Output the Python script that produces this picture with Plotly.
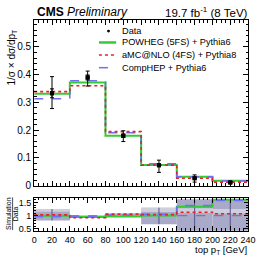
import plotly.graph_objects as go

# ---------------- data ----------------
edges = [0, 40, 80, 120, 160, 200, 240]
centers = [20, 60, 100, 140, 180, 220]
data_val = [0.333, 0.390, 0.180, 0.074, 0.027, 0.0117]
data_tot_hi = [0.060, 0.023, 0.018, 0.018, 0.012, 0.004]
data_tot_lo = [0.055, 0.031, 0.021, 0.026, 0.014, 0.004]
data_stat = [0.016, 0.009, 0.006, 0.004, 0.002, 0.001]

powheg = [0.331, 0.372, 0.180, 0.075, 0.032, 0.0180]
amcnlo = [0.339, 0.360, 0.195, 0.074, 0.027, 0.0128]
comphep = [0.313, 0.378, 0.191, 0.079, 0.032, 0.0176]

ratio_powheg = [1.00, 0.95, 0.97, 1.01, 1.34, 1.60]
ratio_amcnlo = [1.03, 0.92, 1.06, 1.04, 1.13, 1.07]
ratio_comphep = [0.96, 0.97, 1.03, 1.05, 1.38, 1.57]

band_dark_lo = [0.82, 0.91, 0.95, 0.68, 0.40, 0.40]
band_dark_hi = [1.25, 1.02, 1.09, 1.30, 1.62, 1.62]
band_light_lo = [1.15, 0.99, 1.06, 1.14, 1.10, 1.08]
band_light_hi = [1.25, 1.02, 1.09, 1.30, 1.28, 1.25]

x_ticks = list(range(0, 241, 20))

GREEN = "#33cc33"
RED = "#e8202a"
BLUE = "#6f6ff5"
FONT = "Liberation Sans"

W, H = 270, 263
def px(x):
    return x / W
def py(y):
    return 1 - y / H

fig = go.Figure()

def step(vals):
    return vals + [vals[-1]]

# ---------- ratio bands ----------
for lo, hi, col in [(band_dark_lo, band_dark_hi, "#a9a9c9"),
                    (band_light_lo, band_light_hi, "#cfcfdc")]:
    for i in range(len(centers)):
        fig.add_trace(go.Scatter(
            x=[edges[i], edges[i + 1], edges[i + 1], edges[i], edges[i]],
            y=[lo[i], lo[i], hi[i], hi[i], lo[i]],
            fill="toself", fillcolor=col, mode="lines", line=dict(width=0),
            xaxis="x2", yaxis="y2", hoverinfo="skip", showlegend=False))

# vertical lines in ratio band at bin centres
vx, vy = [], []
for i, c in enumerate(centers):
    if i == 1 or i == 2:
        continue
    vx += [c, c, None]
    vy += [band_dark_lo[i], band_dark_hi[i], None]
fig.add_trace(go.Scatter(x=vx, y=vy, mode="lines",
                         line=dict(color="#55558e", width=1),
                         xaxis="x2", yaxis="y2", showlegend=False))

# dashed line at 1
fig.add_trace(go.Scatter(x=[0, 240], y=[1, 1], mode="lines",
                         line=dict(color="#666666", width=0.8, dash="dash"),
                         xaxis="x2", yaxis="y2", showlegend=False))

for vals, col, dash, w, ax in [
        (powheg, GREEN, "solid", 2, ""), (comphep, BLUE, "dash", 1.5, ""),
        (amcnlo, RED, "dot", 1.6, ""),
        (ratio_powheg, GREEN, "solid", 2, "2"), (ratio_comphep, BLUE, "dash", 1.5, "2"),
        (ratio_amcnlo, RED, "dot", 1.6, "2")]:
    fig.add_trace(go.Scatter(x=edges, y=step(vals), mode="lines",
                             line=dict(color=col, width=w, dash=dash, shape="hv"),
                             xaxis="x" + ax, yaxis="y" + ax, showlegend=False))

# data: total error
fig.add_trace(go.Scatter(
    x=centers, y=data_val, mode="markers",
    marker=dict(color="black", size=4, symbol="square"),
    error_y=dict(type="data", symmetric=False, array=data_tot_hi,
                 arrayminus=data_tot_lo, color="black", thickness=1, width=2),
    xaxis="x", yaxis="y", showlegend=False))
# data: stat error
fig.add_trace(go.Scatter(
    x=centers, y=data_val, mode="markers",
    marker=dict(color="black", size=4, symbol="square"),
    error_y=dict(type="data", array=data_stat, color="black", thickness=1, width=2),
    xaxis="x", yaxis="y", showlegend=False))

axis_common = dict(ticks="inside", mirror="allticks", showline=True,
                   linecolor="black", linewidth=1, showgrid=False, zeroline=False,
                   tickcolor="black", tickfont=dict(family=FONT, size=10, color="black"))

x_dom = [px(32.5), px(255.5)]
fig.update_layout(
    width=W, height=H, margin=dict(l=0, r=0, t=0, b=0),
    paper_bgcolor="white", plot_bgcolor="white",
    xaxis=dict(domain=x_dom, range=[0, 240], anchor="y", showticklabels=False,
               tickvals=x_ticks, ticklen=5,
               minor=dict(dtick=5, ticklen=2.5, ticks="inside", tickcolor="black"),
               **axis_common),
    yaxis=dict(domain=[py(189.3), py(20.7)], range=[0, 0.596], anchor="x",
               dtick=0.1, ticklen=5, tickformat="~g",
               minor=dict(dtick=0.02, ticklen=2.5, ticks="inside", tickcolor="black"),
               **axis_common),
    xaxis2=dict(domain=x_dom, range=[0, 240], anchor="y2", tickvals=x_ticks,
                ticktext=[str(t) for t in x_ticks], ticklen=5,
                minor=dict(dtick=5, ticklen=2.5, ticks="inside", tickcolor="black"),
                **{**axis_common, "tickfont": dict(family=FONT, size=9, color="black")}),
    yaxis2=dict(domain=[py(235.3), py(201.7)], range=[0.43, 1.67], anchor="x2",
                tickvals=[0.5, 1, 1.5], ticktext=["0.5", "1", "1.5"], ticklen=4,
                minor=dict(dtick=0.1, ticklen=2, ticks="inside", tickcolor="black"),
                **{**axis_common, "tickfont": dict(family=FONT, size=9, color="black")}),
)

ann = []
ann.append(dict(x=px(33), y=py(12.5), xref="paper", yref="paper", xanchor="left",
                yanchor="middle", showarrow=False,
                text="<b>CMS</b> <i>Preliminary</i>",
                font=dict(family=FONT, size=12, color="black")))
ann.append(dict(x=px(257), y=py(12.5), xref="paper", yref="paper", xanchor="right",
                yanchor="middle", showarrow=False,
                text="19.7 fb<sup>-1</sup> (8 TeV)",
                font=dict(family=FONT, size=11.5, color="black")))
ann.append(dict(x=px(9), y=py(58), xref="paper", yref="paper", xanchor="center",
                yanchor="middle", showarrow=False, textangle=-90,
                text="1/σ × dσ/dp<sub>T</sub>",
                font=dict(family=FONT, size=10, color="black")))
ann.append(dict(x=px(6.5), y=py(218), xref="paper", yref="paper", xanchor="center",
                yanchor="middle", showarrow=False, textangle=-90,
                text="<u>Simulation</u>", font=dict(family=FONT, size=7, color="black")))
ann.append(dict(x=px(13), y=py(218), xref="paper", yref="paper", xanchor="center",
                yanchor="middle", showarrow=False, textangle=-90,
                text="Data", font=dict(family=FONT, size=7, color="black")))
ann.append(dict(x=px(256), y=py(255), xref="paper", yref="paper", xanchor="right",
                yanchor="middle", showarrow=False,
                text="top p<sub>T</sub> [GeV]", font=dict(family=FONT, size=9.5, color="black")))

legend_rows = [("Data", 31.7), ("POWHEG (5FS) + Pythia6", 43.3),
               ("aMC@NLO (4FS) + Pythia8", 56), ("CompHEP + Pythia6", 69)]
for txt, yy in legend_rows:
    ann.append(dict(x=px(122), y=py(yy), xref="paper", yref="paper", xanchor="left",
                    yanchor="middle", showarrow=False, text=txt,
                    font=dict(family=FONT, size=9.2, color="black")))

shapes = []
shapes.append(dict(type="circle", xref="paper", yref="paper",
                   x0=px(108.5), x1=px(111.5), y0=py(33.2), y1=py(30.2),
                   fillcolor="black", line=dict(width=0)))
for (txt, yy), col, dash, w in zip(legend_rows[1:], [GREEN, RED, BLUE],
                                   ["solid", "dot", "dash"], [2.5, 1.6, 1.5]):
    shapes.append(dict(type="line", xref="paper", yref="paper",
                       x0=px(100), x1=px(118), y0=py(yy), y1=py(yy),
                       line=dict(color=col, width=w, dash=dash)))

fig.update_layout(annotations=ann, shapes=shapes)
fig.write_html("out.html", config={"displayModeBar": False, "staticPlot": True},
               post_script="document.body.style.margin='0';document.body.style.padding='0';")
